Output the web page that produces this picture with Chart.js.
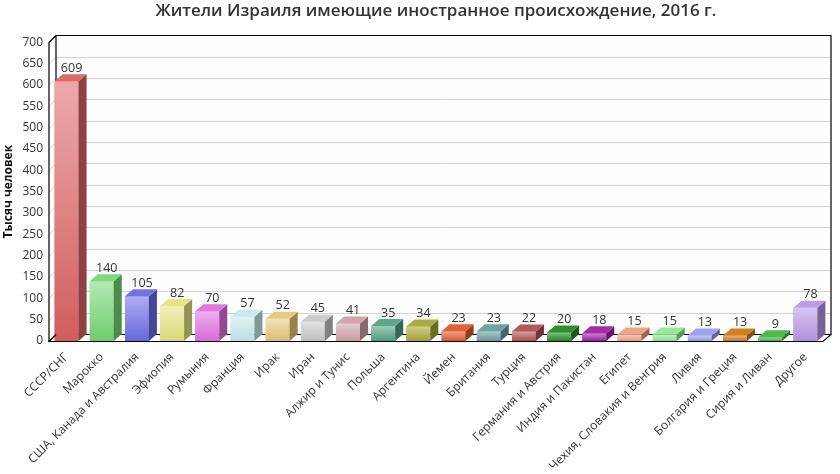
<!DOCTYPE html>
<html><head><meta charset="utf-8">
<script src="https://cdn.jsdelivr.net/npm/chart.js@4/dist/chart.umd.min.js"></script>
<style>html,body{margin:0;padding:0;background:#fff}#w{width:840px;height:474px}</style>
</head><body><div id="w"><canvas id="c"></canvas></div>
<script>
const titleText = 'Жители Израиля имеющие иностранное происхождение, 2016 г.';
const yTitle = 'Тысяч человек';
const categories = ['СССР/СНГ','Марокко','США, Канада и Австралия','Эфиопия','Румыния','Франция','Ирак','Иран','Алжир и Тунис','Польша','Аргентина','Йемен','Британия','Турция','Германия и Австрия','Индия и Пакистан','Египет','Чехия, Словакия и Венгрия','Ливия','Болгария и Греция','Сирия и Ливан','Другое'];
const values = [609,140,105,82,70,57,52,45,41,35,34,23,23,22,20,18,15,15,13,13,9,78];
const barColors = ['#dc6262','#74d874','#6c6ce6','#e4e47c','#e070e0','#c4eaea','#e8c878','#c8c8c8','#cfa2a8','#52a282','#a8a832','#e05a28','#6a9e9e','#b05050','#228a22','#a020a8','#f0a080','#92e892','#9c9cf0','#d07818','#42b842','#b898e8'];
const yMin = 0, yMax = 700, yStep = 50;

const DX = 8, DY = 7;
function hex2rgb(h){h=h.replace('#','');return [parseInt(h.substr(0,2),16),parseInt(h.substr(2,2),16),parseInt(h.substr(4,2),16)];}
function mix(h,t,a){const c=hex2rgb(h);const tt=t==='w'?[255,255,255]:[0,0,0];return 'rgb('+c.map((v,i)=>Math.round(v+(tt[i]-v)*a)).join(',')+')';}

const box3d = {
  id:'box3d',
  beforeDatasetsDraw(chart){
    const {ctx, chartArea:a, scales:{y}} = chart;
    ctx.save();
    ctx.fillStyle='#fdfdfd';
    ctx.fillRect(a.left+DX-1, a.top-DY, a.right-a.left, a.bottom-a.top);
    ctx.strokeStyle='#d2d2d2'; ctx.lineWidth=1;
    for(let v=yMin+yStep; v<yMax; v+=yStep){
      const py=Math.round(y.getPixelForValue(v))+0.5;
      ctx.beginPath();
      ctx.moveTo(a.left, py);
      ctx.lineTo(a.left+DX-1, py-DY);
      ctx.lineTo(a.right+DX, py-DY);
      ctx.stroke();
    }
    ctx.strokeStyle='#000'; ctx.lineWidth=1.2;
    const t=Math.round(y.getPixelForValue(yMax))+0.5, b=Math.round(y.getPixelForValue(yMin))+0.5;
    ctx.beginPath();
    ctx.moveTo(a.left+DX-1, b-DY); ctx.lineTo(a.left+DX-1, t-DY); ctx.lineTo(a.right+DX, t-DY); ctx.lineTo(a.right+DX, b-DY); ctx.lineTo(a.left+DX-1,b-DY);
    ctx.moveTo(a.left, b); ctx.lineTo(a.left, t); ctx.lineTo(a.left+DX-1, t-DY);
    ctx.stroke();
    ctx.restore();
  },
  afterDatasetsDraw(chart){
    const {ctx, chartArea:a, scales:{y}} = chart;
    const meta = chart.getDatasetMeta(0);
    ctx.save();
    meta.data.forEach((bar,i)=>{
      const c = barColors[i];
      const w = bar.width, x0 = bar.x - w/2, x1 = bar.x + w/2, top = bar.y, base = bar.base;
      const g = ctx.createLinearGradient(0, top, 0, base);
      g.addColorStop(0, mix(c,'w',0.45));
      g.addColorStop(1, mix(c,'b',0.05));
      ctx.fillStyle = g;
      ctx.fillRect(x0, top, w, base-top);
      ctx.fillStyle = mix(c,'b',0.35);
      ctx.beginPath();
      ctx.moveTo(x1, top); ctx.lineTo(x1+DX, top-DY); ctx.lineTo(x1+DX, base-DY); ctx.lineTo(x1, base); ctx.closePath(); ctx.fill();
      ctx.fillStyle = mix(c,'w',0.05);
      ctx.beginPath();
      ctx.moveTo(x0, top); ctx.lineTo(x0+DX, top-DY); ctx.lineTo(x1+DX, top-DY); ctx.lineTo(x1, top); ctx.closePath(); ctx.fill();
      ctx.fillStyle='#333';
      ctx.font='12.5px "Open Sans", sans-serif';
      ctx.textAlign='center'; ctx.textBaseline='middle';
      ctx.fillText(String(values[i]), bar.x+5, top-13);
    });
    const b=Math.round(y.getPixelForValue(yMin))+0.5;
    ctx.strokeStyle='#000'; ctx.lineWidth=1.2;
    ctx.beginPath();
    ctx.moveTo(a.left+DX-1, b-DY); ctx.lineTo(a.left, b); ctx.lineTo(a.right, b); ctx.lineTo(a.right+DX, b-DY);
    ctx.stroke();
    ctx.restore();
  }
};

new Chart(document.getElementById('c'), {
  type:'bar',
  data:{labels:categories, datasets:[{data:values, backgroundColor:barColors, borderWidth:0, categoryPercentage:1, barPercentage:0.68}]},
  options:{
    responsive:true, maintainAspectRatio:false, animation:false,
    layout:{padding:{left:0,right:17,top:0,bottom:0}},
    plugins:{
      legend:{display:false}, tooltip:{enabled:false},
      title:{display:true, text:titleText, fullSize:false, color:'#333', font:{family:'"Open Sans", sans-serif', size:17, weight:'600'}, padding:{top:1,bottom:21}}
    },
    scales:{
      x:{
        grid:{display:false, drawTicks:false}, border:{display:false},
        ticks:{color:'#333', font:{family:'"Open Sans", sans-serif', size:12}, minRotation:45, maxRotation:45, autoSkip:false, padding:9},
        afterFit(s){ s.height = 133; }
      },
      y:{
        min:yMin, max:yMax,
        grid:{display:false, drawTicks:false}, border:{display:false},
        ticks:{stepSize:yStep, color:'#333', font:{family:'"Open Sans", sans-serif', size:12}, padding:6},
        title:{display:true, text:yTitle, color:'#111', font:{family:'"Open Sans", sans-serif', size:12, weight:'bold'}, padding:{top:1,bottom:0}},
        afterFit(s){ s.width = 49; }
      }
    }
  },
  plugins:[box3d]
});
</script></body></html>
